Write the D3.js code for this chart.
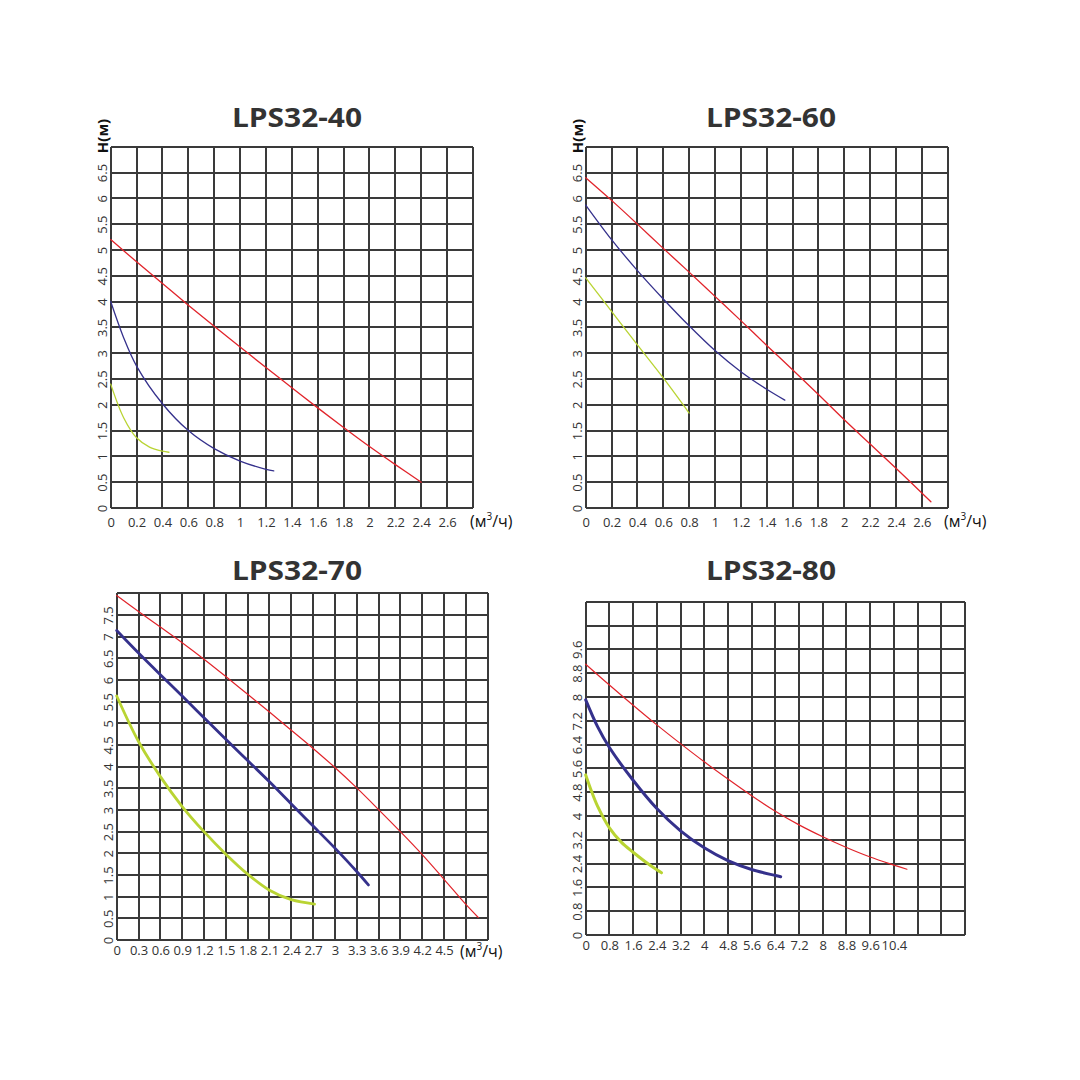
<!DOCTYPE html>
<html>
<head>
<meta charset="utf-8">
<script src="https://cdn.jsdelivr.net/npm/d3@7"></script>
<style>
  html, body { margin: 0; padding: 0; background: #ffffff; }
  svg { display: block; }
</style>
</head>
<body>
<svg id="chart" width="1080" height="1080"></svg>
<script>
// ---------- DATA ----------
const titles = ["LPS32-40", "LPS32-60", "LPS32-70", "LPS32-80"];

// LPS32-40
const p1xTicks = [0, 0.2, 0.4, 0.6, 0.8, 1, 1.2, 1.4, 1.6, 1.8, 2, 2.2, 2.4, 2.6];
const p1yTicks = [0, 0.5, 1, 1.5, 2, 2.5, 3, 3.5, 4, 4.5, 5, 5.5, 6, 6.5];
const p1Red   = [[0,5.2],[0.2,4.77],[0.4,4.35],[0.6,3.93],[0.8,3.52],[1.0,3.12],[1.2,2.72],[1.4,2.33],[1.6,1.94],[1.8,1.56],[2.0,1.19],[2.2,0.84],[2.4,0.5]];
const p1Blue  = [[0,4.0],[0.1,3.3],[0.2,2.75],[0.4,2.02],[0.6,1.5],[0.8,1.15],[1.0,0.91],[1.2,0.75],[1.26,0.72]];
const p1Green = [[0,2.4],[0.1,1.75],[0.2,1.36],[0.3,1.18],[0.4,1.1],[0.45,1.08]];

// LPS32-60
const p2xTicks = [0, 0.2, 0.4, 0.6, 0.8, 1, 1.2, 1.4, 1.6, 1.8, 2, 2.2, 2.4, 2.6];
const p2yTicks = [0, 0.5, 1, 1.5, 2, 2.5, 3, 3.5, 4, 4.5, 5, 5.5, 6, 6.5];
const p2Red   = [[0,6.4],[0.2,5.96],[0.4,5.5],[0.6,5.03],[0.8,4.57],[1.0,4.1],[1.2,3.63],[1.4,3.15],[1.6,2.68],[1.8,2.2],[2.0,1.71],[2.2,1.24],[2.4,0.77],[2.67,0.12]];
const p2Blue  = [[0,5.87],[0.2,5.2],[0.4,4.6],[0.6,4.05],[0.8,3.53],[1.0,3.05],[1.2,2.64],[1.4,2.3],[1.54,2.09]];
const p2Green = [[0,4.46],[0.2,3.81],[0.4,3.16],[0.6,2.52],[0.8,1.84]];

// LPS32-70
const p3xTicks = [0, 0.3, 0.6, 0.9, 1.2, 1.5, 1.8, 2.1, 2.4, 2.7, 3, 3.3, 3.6, 3.9, 4.2, 4.5];
const p3yTicks = [0, 0.5, 1, 1.5, 2, 2.5, 3, 3.5, 4, 4.5, 5, 5.5, 6, 6.5, 7, 7.5];
const p3Red   = [[0,7.95],[0.3,7.58],[0.6,7.22],[0.9,6.86],[1.2,6.48],[1.5,6.08],[1.8,5.67],[2.1,5.26],[2.4,4.84],[2.7,4.42],[3.0,3.98],[3.3,3.51],[3.6,3.01],[3.9,2.5],[4.2,1.97],[4.5,1.4],[4.8,0.82],[4.97,0.52]];
const p3Blue  = [[0,7.14],[0.3,6.62],[0.6,6.12],[0.9,5.63],[1.2,5.13],[1.5,4.63],[1.8,4.14],[2.1,3.65],[2.4,3.14],[2.7,2.63],[3.0,2.12],[3.3,1.58],[3.46,1.27]];
const p3Green = [[0,5.63],[0.3,4.58],[0.6,3.77],[0.9,3.08],[1.2,2.5],[1.5,1.98],[1.8,1.52],[2.1,1.15],[2.4,0.93],[2.72,0.83]];

// LPS32-80
const p4xTicks = [0, 0.8, 1.6, 2.4, 3.2, 4, 4.8, 5.6, 6.4, 7.2, 8, 8.8, 9.6, 10.4];
const p4yTicks = [0, 0.8, 1.6, 2.4, 3.2, 4, 4.8, 5.6, 6.4, 7.2, 8, 8.8, 9.6];
const p4Red   = [[0,9.1],[0.8,8.4],[1.6,7.72],[2.4,7.06],[3.2,6.43],[4,5.82],[4.8,5.24],[5.6,4.68],[6.4,4.16],[7.2,3.7],[8,3.3],[8.8,2.94],[9.6,2.62],[10.4,2.35],[10.84,2.21]];
const p4Blue  = [[0,7.9],[0.4,7.0],[0.8,6.3],[1.6,5.2],[2.4,4.25],[3.2,3.5],[4,2.93],[4.8,2.5],[5.6,2.2],[6.4,2.0],[6.58,1.96]];
const p4Green = [[0,5.38],[0.2,4.82],[0.4,4.33],[0.8,3.6],[1.2,3.12],[1.6,2.78],[2.0,2.47],[2.4,2.19],[2.56,2.09]];

// ---------- STYLE / LAYOUT ----------
const RED = "#e1242b", BLUE = "#35318c", GREEN = "#b9d433", GRID = "#3a3a3a", TXT = "#333333";

const panels = [
  { title: titles[0], tx: 297, ty: 127, xDom: [0, 2.8], yDom: [0, 7], xStep: 0.2, yStep: 0.5,
    x0: 110.7, x1: 473, y0: 508, y1: 146.7, xTicks: p1xTicks, yTicks: p1yTicks,
    series: [p1Red, p1Blue, p1Green], widths: [1.3, 1.3, 1.3],
    xLabY: 526.5, yLabX: 106.5, hLabel: true, unit: [470, 527] },
  { title: titles[1], tx: 771, ty: 127, xDom: [0, 2.8], yDom: [0, 7], xStep: 0.2, yStep: 0.5,
    x0: 585.7, x1: 947.7, y0: 508, y1: 146.7, xTicks: p2xTicks, yTicks: p2yTicks,
    series: [p2Red, p2Blue, p2Green], widths: [1.3, 1.3, 1.3],
    xLabY: 526.5, yLabX: 581.5, hLabel: true, unit: [944, 527] },
  { title: titles[2], tx: 297, ty: 580, xDom: [0, 5.1], yDom: [0, 8], xStep: 0.3, yStep: 0.5,
    x0: 116.7, x1: 487.7, y0: 940, y1: 593.3, xTicks: p3xTicks, yTicks: p3yTicks,
    series: [p3Red, p3Blue, p3Green], widths: [1.2, 2.8, 2.8],
    xLabY: 955, yLabX: 112.5, hLabel: false, unit: [460, 957] },
  { title: titles[3], tx: 771, ty: 580, xDom: [0, 12.8], yDom: [0, 11.2], xStep: 0.8, yStep: 0.8,
    x0: 585.7, x1: 965, y0: 935, y1: 601.7, xTicks: p4xTicks, yTicks: p4yTicks,
    series: [p4Red, p4Blue, p4Green], widths: [1.2, 3, 3],
    xLabY: 950, yLabX: 581.5, hLabel: false, unit: null }
];
const colors = [RED, BLUE, GREEN];

const svg = d3.select("#chart");
svg.append("rect").attr("width", 1080).attr("height", 1080).attr("fill", "#fff");

const fmt = d => String(+d.toFixed(2));

panels.forEach(p => {
  const x = d3.scaleLinear().domain(p.xDom).range([p.x0, p.x1]);
  const y = d3.scaleLinear().domain(p.yDom).range([p.y0, p.y1]);
  const g = svg.append("g");

  // grid
  const nx = Math.round((p.xDom[1] - p.xDom[0]) / p.xStep);
  const ny = Math.round((p.yDom[1] - p.yDom[0]) / p.yStep);
  const gx = d3.range(nx + 1).map(i => p.xDom[0] + i * p.xStep);
  const gy = d3.range(ny + 1).map(i => p.yDom[0] + i * p.yStep);

  const gridG = g.append("g").attr("stroke", GRID).attr("stroke-width", 2).attr("shape-rendering", "crispEdges");
  gridG.selectAll("line.v").data(gx).join("line").attr("class", "v")
    .attr("x1", d => x(d)).attr("x2", d => x(d)).attr("y1", y(p.yDom[0])).attr("y2", y(p.yDom[1]));
  gridG.selectAll("line.h").data(gy).join("line").attr("class", "h")
    .attr("y1", d => y(d)).attr("y2", d => y(d)).attr("x1", x(p.xDom[0])).attr("x2", x(p.xDom[1]));

  // x axis labels
  const xa = g.append("g").attr("transform", `translate(0,${p.xLabY - 12})`)
    .call(d3.axisBottom(x).tickValues(p.xTicks).tickSize(0).tickPadding(0).tickFormat(fmt));
  xa.select(".domain").remove();
  xa.selectAll("text").attr("dy", 0).attr("y", 12)
    .attr("font-family", "'Open Sans', sans-serif").attr("font-size", 13).attr("fill", TXT);

  // y axis labels (rotated)
  const ya = g.append("g").attr("transform", `translate(${p.yLabX},0)`)
    .call(d3.axisLeft(y).tickValues(p.yTicks).tickSize(0).tickPadding(0).tickFormat(fmt));
  ya.select(".domain").remove();
  ya.selectAll("text")
    .attr("x", 0).attr("dy", 0).attr("y", 0)
    .attr("transform", "rotate(-90)")
    .attr("text-anchor", "middle")
    .attr("font-family", "'Open Sans', sans-serif").attr("font-size", 13).attr("fill", TXT);

  // curves
  const line = d3.line().x(d => x(d[0])).y(d => y(d[1])).curve(d3.curveCatmullRom.alpha(0.5));
  p.series.forEach((s, i) => {
    g.append("path").datum(s).attr("d", line)
      .attr("fill", "none").attr("stroke", colors[i]).attr("stroke-width", p.widths[i])
      .attr("stroke-linecap", "round").attr("stroke-linejoin", "round");
  });

  // title
  g.append("text").attr("x", p.tx).attr("y", p.ty).attr("text-anchor", "middle")
    .attr("font-family", "'Open Sans', sans-serif").attr("font-weight", 700)
    .attr("font-size", 27).attr("fill", TXT).attr("textLength", 130).attr("lengthAdjust", "spacingAndGlyphs")
    .text(p.title);

  // H(м) label
  if (p.hLabel) {
    g.append("text").attr("transform", `translate(${p.yLabX + 1.5},136) rotate(-90)`)
      .attr("text-anchor", "middle")
      .attr("font-family", "'Open Sans', sans-serif").attr("font-weight", 700)
      .attr("font-size", 15).attr("fill", "#111").text("H(м)");
  }
  // unit label
  if (p.unit) {
    const t = g.append("text").attr("x", p.unit[0]).attr("y", p.unit[1])
      .attr("font-family", "'Open Sans', sans-serif").attr("font-size", 16).attr("fill", "#111");
    t.append("tspan").text("(м");
    t.append("tspan").attr("font-size", 10).attr("dy", -7).text("3");
    t.append("tspan").attr("dy", 7).text("/ч)");
  }
});
</script>
</body>
</html>
